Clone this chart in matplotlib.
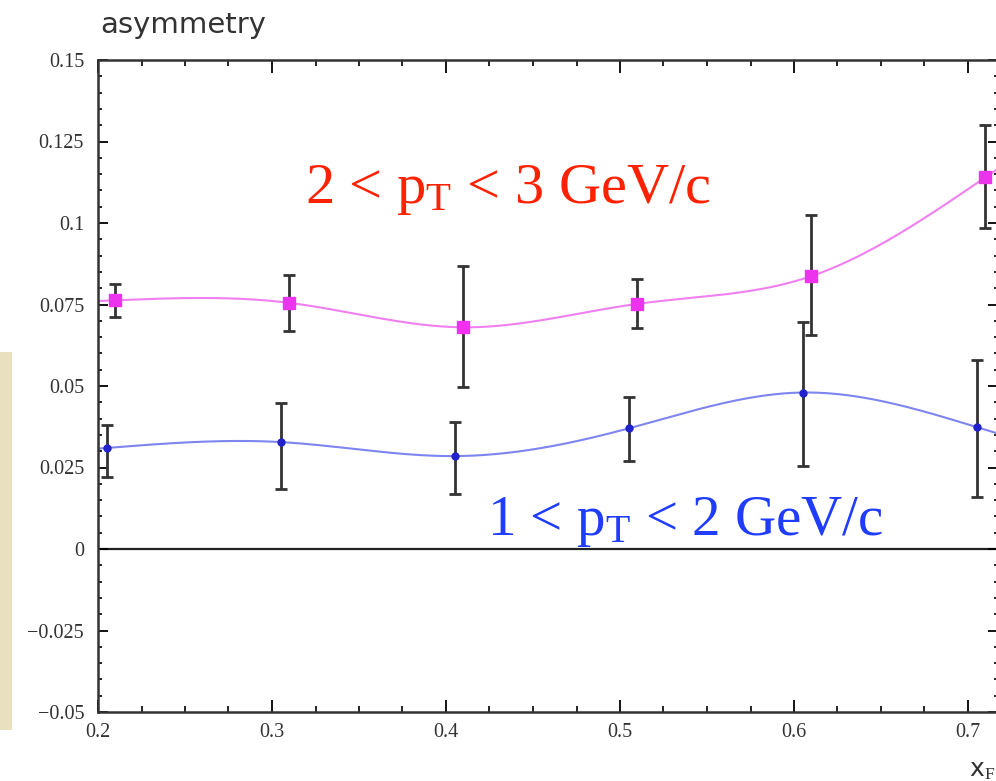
import numpy as np
import matplotlib
matplotlib.use("Agg")
import matplotlib.pyplot as plt
from matplotlib.patches import Rectangle
from matplotlib.ticker import MultipleLocator, FixedFormatter, FixedLocator

# ---- data ----
x_high = [0.21, 0.31, 0.41, 0.51, 0.61, 0.71]
y_high = [0.0763, 0.0755, 0.068, 0.0752, 0.0837, 0.114]
err_high_up = [0.0813, 0.0840, 0.0868, 0.0828, 0.1025, 0.1300]
err_high_lo = [0.0712, 0.0669, 0.0497, 0.0678, 0.0655, 0.0985]

x_low = [0.205, 0.305, 0.405, 0.505, 0.605, 0.705]
y_low = [0.031, 0.0328, 0.0285, 0.0370, 0.0480, 0.0374]
err_low_up = [0.0380, 0.0448, 0.0390, 0.0466, 0.0696, 0.0580]
err_low_lo = [0.0222, 0.0184, 0.0169, 0.0270, 0.0255, 0.0160]

yticks = [-0.05, -0.025, 0, 0.025, 0.05, 0.075, 0.1, 0.125, 0.15]
ytick_labels = ["\u22120.05", "\u22120.025", "0", "0.025", "0.05", "0.075", "0.1", "0.125", "0.15"]
xticks = [0.2, 0.3, 0.4, 0.5, 0.6, 0.7]
xtick_labels = ["0.2", "0.3", "0.4", "0.5", "0.6", "0.7"]

label_high = r"2 < p$_{\mathrm{T}}$ < 3 GeV/c"
label_low = r"1 < p$_{\mathrm{T}}$ < 2 GeV/c"


def natural_spline(xs, ys, xe):
    xs = np.asarray(xs, float); ys = np.asarray(ys, float)
    n = len(xs)
    h = np.diff(xs)
    A = np.zeros((n, n)); b = np.zeros(n)
    A[0, 0] = 1; A[-1, -1] = 1
    for i in range(1, n - 1):
        A[i, i - 1] = h[i - 1]
        A[i, i] = 2 * (h[i - 1] + h[i])
        A[i, i + 1] = h[i]
        b[i] = 6 * ((ys[i + 1] - ys[i]) / h[i] - (ys[i] - ys[i - 1]) / h[i - 1])
    M = np.linalg.solve(A, b)
    out = np.empty_like(xe)
    for k, xv in enumerate(xe):
        i = np.clip(np.searchsorted(xs, xv) - 1, 0, n - 2)
        t1 = xs[i + 1] - xv; t0 = xv - xs[i]
        out[k] = (M[i] * t1 ** 3 / (6 * h[i]) + M[i + 1] * t0 ** 3 / (6 * h[i])
                  + (ys[i] / h[i] - M[i] * h[i] / 6) * t1
                  + (ys[i + 1] / h[i] - M[i + 1] * h[i] / 6) * t0)
    return out


plt.rcParams['mathtext.fontset'] = 'custom'
plt.rcParams['mathtext.rm'] = 'Liberation Serif'
plt.rcParams['mathtext.it'] = 'Liberation Serif:italic'

fig = plt.figure(figsize=(9.96, 7.81), dpi=100)
W, H = 996, 781
ax = fig.add_axes([98 / W, 1 - 712 / H, 900 / W, 652 / H])
xmin, xmax = 0.2, 0.2 + 900 / 1740
ax.set_xlim(xmin, xmax)
ax.set_ylim(-0.05, 0.15)

# beige rectangle at left
fig.patches.append(Rectangle((0, 1 - 730 / H), 12 / W, 378 / H, transform=fig.transFigure,
                             facecolor="#e9e0bf", edgecolor="none", zorder=0))

# zero line
ax.axhline(0, color="#222222", lw=1.6, zorder=1)

xe = np.linspace(xmin, xmax, 400)
ax.plot(xe, natural_spline(x_high, y_high, xe), color="#f07ff0", lw=1.5, zorder=2)
ax.plot(xe, natural_spline(x_low, y_low, xe), color="#7f85ee", lw=1.5, zorder=2)

yh = np.array(y_high)
ax.errorbar(x_high, y_high, yerr=[yh - np.array(err_high_lo), np.array(err_high_up) - yh],
            fmt="none", ecolor="#333333", elinewidth=2, capsize=4.5, capthick=2, zorder=3)
yl = np.array(y_low)
ax.errorbar(x_low, y_low, yerr=[yl - np.array(err_low_lo), np.array(err_low_up) - yl],
            fmt="none", ecolor="#333333", elinewidth=2, capsize=4.5, capthick=2, zorder=3)
ax.plot(x_high, y_high, "s", color="#ee33ee", ms=8, mec="#ee33ee", zorder=4)
ax.plot(x_low, y_low, "o", color="#2222cc", ms=5, zorder=4)

# ticks
ax.xaxis.set_major_locator(FixedLocator(xticks))
ax.xaxis.set_major_formatter(FixedFormatter(xtick_labels))
ax.xaxis.set_minor_locator(MultipleLocator(0.025))
ax.yaxis.set_major_locator(FixedLocator(yticks))
ax.yaxis.set_major_formatter(FixedFormatter(ytick_labels))
ax.yaxis.set_minor_locator(MultipleLocator(0.005))
ax.tick_params(axis="x", which="major", direction="in", length=9, width=1.3,
               top=True, bottom=True, pad=8)
ax.tick_params(axis="x", which="minor", direction="in", length=4.5, width=1.2,
               top=True, bottom=True)
ax.tick_params(axis="y", which="major", direction="in", length=7, width=1.3,
               left=True, right=True, pad=10)
ax.tick_params(axis="y", which="minor", direction="in", length=3, width=1.2,
               left=True, right=True)
for lab in ax.get_xticklabels() + ax.get_yticklabels():
    lab.set_fontfamily("Liberation Serif")
    lab.set_fontsize(14.5)
    lab.set_color("#333333")
for sp in ax.spines.values():
    sp.set_linewidth(1.8)
    sp.set_color("#333333")

# texts
fig.text(100 / W, 1 - 25 / H, "asymmetry", fontsize=21, color="#333333",
         family="DejaVu Sans", ha="left", va="center")
fig.text(305 / W, 1 - 203 / H, label_high, fontsize=42, color="#ff2200",
         family="Liberation Serif", ha="left", va="baseline")
fig.text(487 / W, 1 - 535 / H, label_low, fontsize=41, color="#1f3cff",
         family="Liberation Serif", ha="left", va="baseline")
fig.text(995 / W, 1 - 776 / H, r"x$_{\mathrm{F}}$", fontsize=18, color="#333333",
         family="DejaVu Sans", ha="right", va="baseline")

fig.savefig("out.png", dpi=100)
